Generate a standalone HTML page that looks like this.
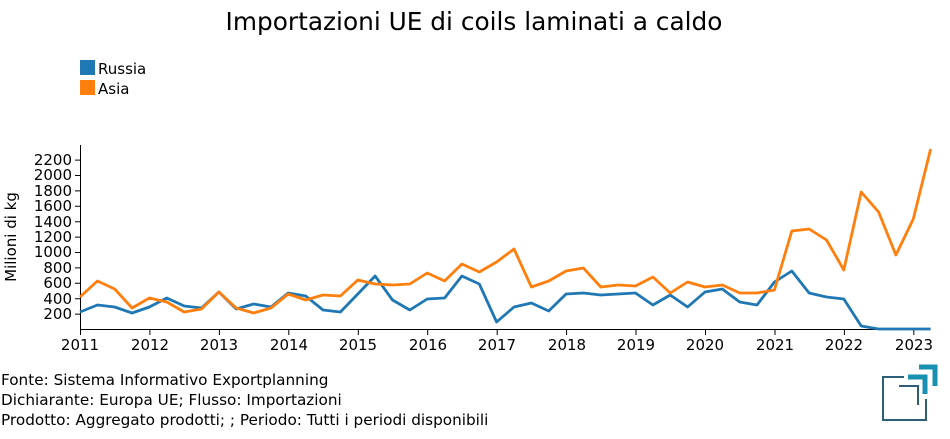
<!DOCTYPE html>
<html><head><meta charset="utf-8"><style>
body{margin:0;background:#fff;font-family:"DejaVu Sans","Liberation Sans",sans-serif}
</style></head><body>
<svg width="950" height="435" xmlns="http://www.w3.org/2000/svg" font-family="DejaVu Sans, Liberation Sans, sans-serif">
<text x="474" y="30" font-size="24.8" text-anchor="middle" fill="#000">Importazioni UE di coils laminati a caldo</text>
<rect x="80" y="60" width="15" height="15" fill="#1f77b4"/>
<text x="98" y="74" font-size="15">Russia</text>
<rect x="80" y="80" width="15" height="15" fill="#ff7f0e"/>
<text x="98" y="94" font-size="15">Asia</text>
<g stroke="#000" stroke-width="1" fill="none">
<path d="M80.5 145V329.5H930.5"/>
<path d="M75 314.1h5M75 298.7h5M75 283.3h5M75 267.9h5M75 252.5h5M75 237.1h5M75 221.7h5M75 206.3h5M75 190.9h5M75 175.5h5M75 160.1h5"/>
<path d="M80.5 329v6M149.9 329v6M219.4 329v6M288.8 329v6M358.3 329v6M427.7 329v6M497.2 329v6M566.6 329v6M636 329v6M705.5 329v6M775 329v6M844.4 329v6M913.8 329v6"/>
</g>
<g font-size="15" text-anchor="end">
<text x="72" y="319">200</text><text x="72" y="304">400</text><text x="72" y="288">600</text><text x="72" y="273">800</text><text x="72" y="257">1000</text><text x="72" y="242">1200</text><text x="72" y="227">1400</text><text x="72" y="211">1600</text><text x="72" y="196">1800</text><text x="72" y="180">2000</text><text x="72" y="165">2200</text>
</g>
<g font-size="15" text-anchor="middle">
<text x="80" y="350">2011</text><text x="150" y="350">2012</text><text x="219" y="350">2013</text><text x="289" y="350">2014</text><text x="358" y="350">2015</text><text x="428" y="350">2016</text><text x="497" y="350">2017</text><text x="567" y="350">2018</text><text x="636" y="350">2019</text><text x="705" y="350">2020</text><text x="775" y="350">2021</text><text x="844" y="350">2022</text><text x="914" y="350">2023</text>
</g>
<text transform="translate(16,237) rotate(-90)" font-size="15" text-anchor="middle">Milioni di kg</text>
<polyline fill="none" stroke="#1f77b4" stroke-width="2.8" stroke-linejoin="round" points="80,312 97.4,305 114.7,307 132.1,313 149.4,307 166.8,298 184.2,306 201.5,308 218.9,292 236.2,309 253.6,304 271,307 288.3,293 305.7,296 323,310 340.4,312 357.8,294 375.1,276 392.5,300 409.8,310 427.2,299 444.6,298 461.9,276 479.3,284 496.6,322 514,307 531.4,303 548.7,311 566.1,294 583.4,293 600.8,295 618.2,294 635.5,293 652.9,305 670.2,295 687.6,307 705,292 722.3,289 739.7,302 757,305 774.4,282 791.8,271 809.1,293 826.5,297 843.8,299 861.2,326 878.6,329 895.9,329 913.3,329 930.6,329"/>
<polyline fill="none" stroke="#ff7f0e" stroke-width="2.8" stroke-linejoin="round" points="80,297 97.4,281 114.7,289 132.1,308 149.4,298 166.8,302 184.2,312 201.5,309 218.9,292 236.2,308 253.6,313 271,308 288.3,294 305.7,300 323,295 340.4,296 357.8,280 375.1,284 392.5,285 409.8,284 427.2,273 444.6,281 461.9,264 479.3,272 496.6,262 514,249 531.4,287 548.7,281 566.1,271 583.4,268 600.8,287 618.2,285 635.5,286 652.9,277 670.2,293 687.6,282 705,287 722.3,285 739.7,293 757,293 774.4,290 791.8,231 809.1,229 826.5,240 843.8,270 861.2,192 878.6,212 895.9,255 913.3,219 930.6,149"/>
<g font-size="15.25">
<text x="1" y="385">Fonte: Sistema Informativo Exportplanning</text>
<text x="1" y="405">Dichiarante: Europa UE; Flusso: Importazioni</text>
<text x="1" y="425">Prodotto: Aggregato prodotti; ; Periodo: Tutti i periodi disponibili</text>
</g>
<g fill="none">
<path d="M904 377H883V420H926V399" stroke="#2f5f77" stroke-width="2"/>
<path d="M899 386H918V405" stroke="#2f5f77" stroke-width="2"/>
<path d="M908 377H925V394" stroke="#1a90b0" stroke-width="5"/>
<path d="M919 367H935V386" stroke="#1a90b0" stroke-width="5"/>
</g>
</svg>
</body></html>
